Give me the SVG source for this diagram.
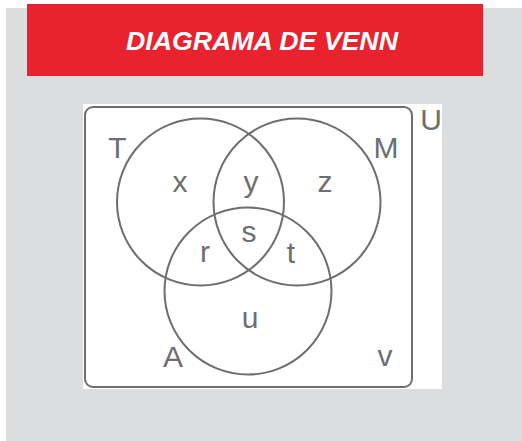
<svg xmlns="http://www.w3.org/2000/svg" width="522" height="441" viewBox="0 0 522 441">
<style>
.lbl{font-family:"Liberation Sans",Arial,sans-serif;font-size:30px;fill:#6d6e70;text-anchor:middle}
.set{fill:none;stroke:#6d6e70;stroke-width:2}
</style>
<rect x="0" y="0" width="522" height="441" fill="#ffffff"/>
<rect x="6" y="8" width="516" height="433" fill="#dcdddf"/>
<g id="title">
<rect x="27" y="4" width="456" height="72" fill="#e8232f"/>
<text x="262" y="50" font-family="Liberation Sans,Arial,sans-serif" font-size="26.7" font-weight="bold" font-style="italic" fill="#ffffff" text-anchor="middle">DIAGRAMA DE VENN</text>
</g>
<rect x="83" y="104" width="359" height="285" fill="#ffffff"/>
<g id="universe">
<rect class="set" x="85" y="107" width="327" height="280" rx="8"/>
<text class="lbl" x="431" y="130">U</text>
<text class="lbl" x="385" y="366">v</text>
</g>
<g id="setT">
<circle class="set" cx="200.5" cy="202" r="83.5"/>
<text class="lbl" x="117.5" y="158">T</text>
</g>
<g id="setM">
<circle class="set" cx="297" cy="202" r="83.5"/>
<text class="lbl" x="386" y="158">M</text>
</g>
<g id="setA">
<circle class="set" cx="248" cy="291" r="83.5"/>
<text class="lbl" x="173" y="366.5">A</text>
</g>
<g id="regions">
<text class="lbl" x="180" y="191.5">x</text>
<text class="lbl" x="251" y="191.5">y</text>
<text class="lbl" x="325" y="191.5">z</text>
<text class="lbl" x="249" y="241.5">s</text>
<text class="lbl" x="205" y="262">r</text>
<text class="lbl" x="291" y="263">t</text>
<text class="lbl" x="250" y="328">u</text>
</g>
</svg>
